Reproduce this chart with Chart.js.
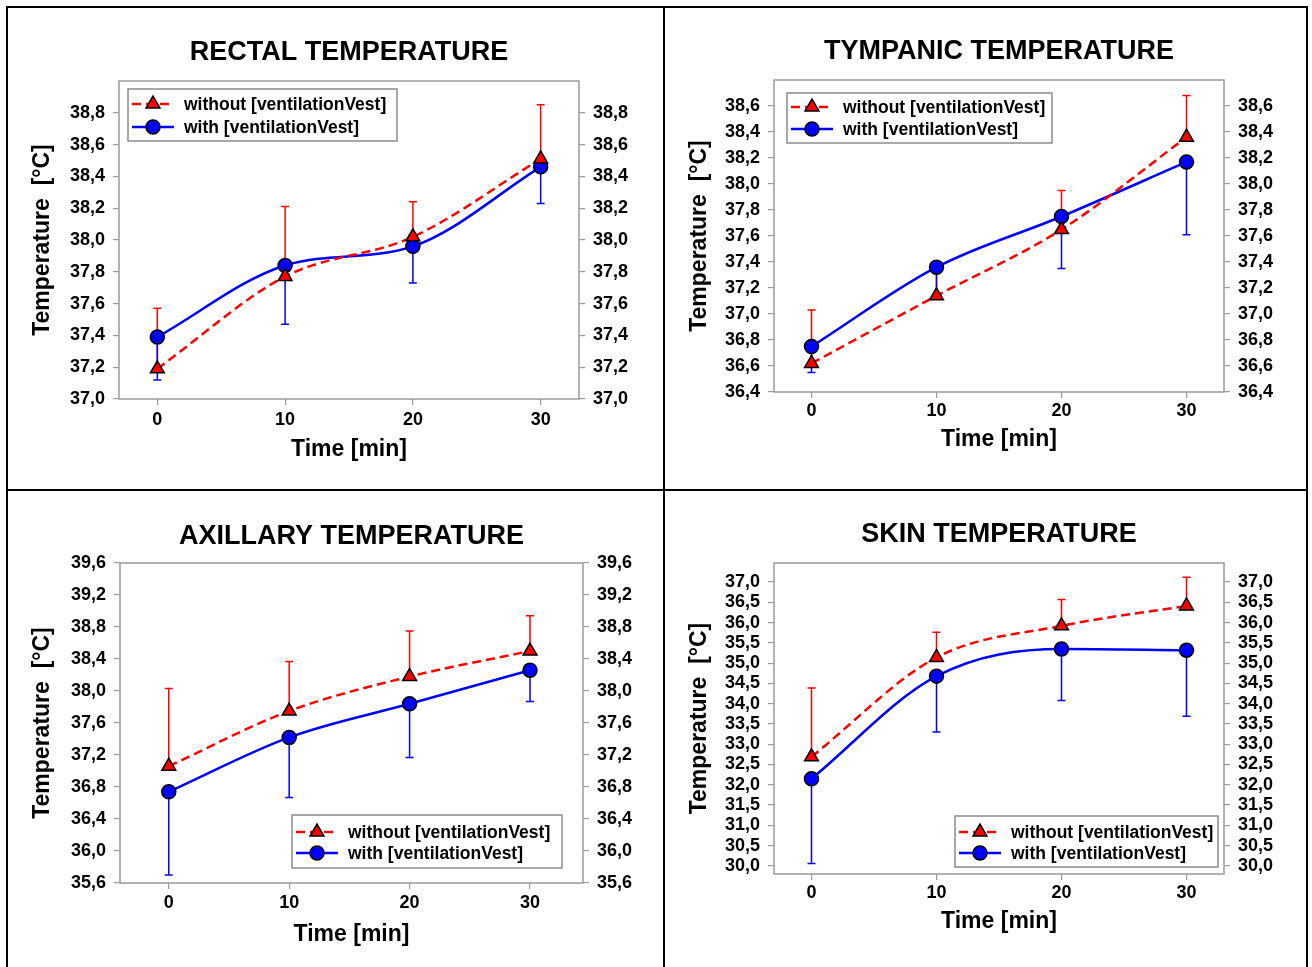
<!DOCTYPE html>
<html>
<head>
<meta charset="utf-8">
<script src="https://cdn.jsdelivr.net/npm/chart.js@4.4.1/dist/chart.umd.min.js"></script>
<style>
  body { margin: 0; background: #fff; }
  #wrap { position: relative; width: 1312px; height: 967px; overflow: hidden; }
  .cell { position: absolute; }
  .rule { position: absolute; background: #000; }
</style>
</head>
<body>
<div id="wrap">
  <div class="cell" style="left:0;top:0"><canvas id="rectal" width="664" height="490"></canvas></div>
  <div class="cell" style="left:664px;top:0"><canvas id="tympanic" width="648" height="490"></canvas></div>
  <div class="cell" style="left:0;top:490px"><canvas id="axillary" width="664" height="477"></canvas></div>
  <div class="cell" style="left:664px;top:490px"><canvas id="skin" width="648" height="477"></canvas></div>

  <div class="rule" style="left:6px;top:6px;width:1302px;height:2px"></div>
  <div class="rule" style="left:6px;top:6px;width:2px;height:961px"></div>
  <div class="rule" style="left:1306px;top:6px;width:2px;height:961px"></div>
  <div class="rule" style="left:663px;top:6px;width:2px;height:961px"></div>
  <div class="rule" style="left:6px;top:489px;width:1302px;height:2px"></div>
</div>
<script>
const times = [0, 10, 20, 30];
const seriesNames = ["without [ventilationVest]", "with [ventilationVest]"];

// rectal
const rectalWithout = [37.19, 37.77, 38.02, 38.51];
const rectalWithoutSd = [0.38, 0.44, 0.22, 0.34];
const rectalWith = [37.39, 37.84, 37.96, 38.46];
const rectalWithSd = [0.27, 0.37, 0.23, 0.23];
const rectalTicks = [37.0, 37.2, 37.4, 37.6, 37.8, 38.0, 38.2, 38.4, 38.6, 38.8];

// tympanic
const tympanicWithout = [36.62, 37.14, 37.65, 38.36];
const tympanicWithoutSd = [0.41, 0.22, 0.30, 0.32];
const tympanicWith = [36.75, 37.36, 37.75, 38.17];
const tympanicWithSd = [0.20, 0.22, 0.40, 0.56];
const tympanicTicks = [36.4, 36.6, 36.8, 37.0, 37.2, 37.4, 37.6, 37.8, 38.0, 38.2, 38.4, 38.6];

// axillary
const axillaryWithout = [37.06, 37.75, 38.18, 38.50];
const axillaryWithoutSd = [0.97, 0.62, 0.57, 0.44];
const axillaryWith = [36.74, 37.42, 37.84, 38.26];
const axillaryWithSd = [1.04, 0.75, 0.67, 0.39];
const axillaryTicks = [35.6, 36.0, 36.4, 36.8, 37.2, 37.6, 38.0, 38.4, 38.8, 39.2, 39.6];

// skin
const skinWithout = [32.69, 35.14, 35.92, 36.41];
const skinWithoutSd = [1.70, 0.62, 0.65, 0.71];
const skinWith = [32.15, 34.68, 35.35, 35.32];
const skinWithSd = [2.09, 1.38, 1.27, 1.63];
const skinTicks = [30.0, 30.5, 31.0, 31.5, 32.0, 32.5, 33.0, 33.5, 34.0, 34.5, 35.0, 35.5, 36.0, 36.5, 37.0];

Chart.defaults.font.family = "'Liberation Sans', Arial, sans-serif";
Chart.defaults.font.weight = "bold";
Chart.defaults.color = "#000";

const RED = "#ff0000";
const BLUE = "#0000ff";
const FRAME = "#9a9a9a";

function marker(ctx, style, x, y, r, fill) {
    ctx.save();
    ctx.fillStyle = fill;
    ctx.strokeStyle = "#000";
    ctx.lineWidth = 1.5;
    ctx.setLineDash([]);
    ctx.beginPath();
    if (style === "triangle") {
        ctx.moveTo(x, y - r);
        ctx.lineTo(x + r * 0.866, y + r * 0.5);
        ctx.lineTo(x - r * 0.866, y + r * 0.5);
        ctx.closePath();
    } else {
        ctx.arc(x, y, r, 0, Math.PI * 2);
    }
    ctx.fill();
    ctx.stroke();
    ctx.restore();
}

// grey frame round the plot area + error bars under the lines
const framePlugin = {
    id: "frame",
    beforeDatasetsDraw(chart) {
        const { ctx, chartArea: a, scales } = chart;
        ctx.save();
        ctx.strokeStyle = FRAME;
        ctx.lineWidth = 1.5;
        ctx.strokeRect(a.left, a.top, a.right - a.left, a.bottom - a.top);

        chart.data.datasets.forEach((ds, i) => {
            const meta = chart.getDatasetMeta(i);
            ctx.strokeStyle = ds.borderColor;
            ctx.lineWidth = 1.5;
            ds.sd.forEach((sd, j) => {
                const x = meta.data[j].x;
                const y0 = scales.y.getPixelForValue(ds.data[j].y);
                const y1 = scales.y.getPixelForValue(ds.data[j].y + ds.errDir * sd);
                ctx.beginPath();
                ctx.moveTo(x, y0);
                ctx.lineTo(x, y1);
                ctx.moveTo(x - 4, y1);
                ctx.lineTo(x + 4, y1);
                ctx.stroke();
            });
        });
        ctx.restore();
    }
};

// boxed legend inside the plot area
const boxLegendPlugin = {
    id: "boxLegend",
    afterDatasetsDraw(chart, args, opts) {
        const { ctx, chartArea: a } = chart;
        const bx = a.left + opts.x, by = a.top + opts.y;
        ctx.save();
        ctx.fillStyle = "#fff";
        ctx.fillRect(bx, by, opts.w, opts.h);
        ctx.strokeStyle = "#8c8c8c";
        ctx.lineWidth = 1.5;
        ctx.strokeRect(bx, by, opts.w, opts.h);
        chart.data.datasets.forEach((ds, i) => {
            const ry = by + opts.rows[i];
            ctx.strokeStyle = ds.borderColor;
            ctx.lineWidth = ds.borderWidth;
            ctx.setLineDash(ds.borderDash || []);
            ctx.beginPath();
            ctx.moveTo(bx + 4, ry);
            ctx.lineTo(bx + 46, ry);
            ctx.stroke();
            marker(ctx, ds.pointStyle, bx + 25, ry, ds.pointRadius, ds.pointBackgroundColor);
            ctx.fillStyle = "#000";
            ctx.font = "bold 17.5px 'Liberation Sans', Arial, sans-serif";
            ctx.textBaseline = "middle";
            ctx.textAlign = "left";
            ctx.fillText(ds.label, bx + 56, ry + 1);
        });
        ctx.restore();
    }
};

function points(values) {
    return values.map((v, i) => ({ x: times[i], y: v }));
}

function comma(v) {
    return v.toFixed(1).replace(".", ",");
}

function makePanel(id, title, without, withoutSd, withVals, withSd, yTicks, yMin, yMax, xMin, xMax, g) {
    const canvas = document.getElementById(id);
    const W = canvas.width, H = canvas.height;
    const yAxis = (pos) => ({
        type: "linear",
        position: pos,
        min: yMin,
        max: yMax,
        afterBuildTicks: s => { s.ticks = yTicks.map(v => ({ value: v })); },
        afterFit: s => { s.width = pos === "left" ? g.l : W - g.r; },
        ticks: { font: { size: 18 }, padding: 8, autoSkip: false, callback: v => comma(v) },
        grid: { drawOnChartArea: false, drawTicks: true, tickLength: 6, color: FRAME, lineWidth: 1.2 },
        border: { display: false },
        title: pos === "left" ? {
            display: true,
            text: "Temperature  [°C]",
            font: { size: 23 },
            padding: { top: g.yTitle - 13.8, bottom: 0 }
        } : { display: false }
    });

    new Chart(canvas, {
        type: "line",
        data: {
            datasets: [{
                label: seriesNames[0],
                data: points(without),
                sd: withoutSd,
                errDir: 1,
                borderColor: RED,
                borderWidth: 2.5,
                borderDash: [9, 5],
                pointStyle: "triangle",
                pointRadius: 8,
                pointBackgroundColor: RED,
                pointBorderColor: "#000",
                pointBorderWidth: 1.5,
                cubicInterpolationMode: "monotone"
            }, {
                label: seriesNames[1],
                data: points(withVals),
                sd: withSd,
                errDir: -1,
                borderColor: BLUE,
                borderWidth: 2.5,
                pointStyle: "circle",
                pointRadius: 7,
                pointBackgroundColor: BLUE,
                pointBorderColor: "#000",
                pointBorderWidth: 1.5,
                cubicInterpolationMode: "monotone"
            }]
        },
        options: {
            responsive: false,
            animation: false,
            layout: { padding: 0 },
            scales: {
                x: {
                    type: "linear",
                    position: "bottom",
                    min: xMin,
                    max: xMax,
                    afterBuildTicks: s => { s.ticks = times.map(v => ({ value: v })); },
                    afterFit: s => { s.height = H - g.b; },
                    ticks: { font: { size: 18 }, autoSkip: false, padding: g.tickY - g.b - 6 - 10.8 },
                    grid: { drawOnChartArea: false, drawTicks: true, tickLength: 6, color: FRAME, lineWidth: 1.2 },
                    border: { display: false },
                    title: {
                        display: true,
                        text: "Time [min]",
                        font: { size: 23 },
                        padding: { top: 0, bottom: H - g.xTitle - 13.8 }
                    }
                },
                y: yAxis("left"),
                y2: yAxis("right")
            },
            plugins: {
                legend: { display: false },
                tooltip: { enabled: false },
                title: {
                    display: true,
                    text: title,
                    fullSize: false,
                    font: { size: 27, weight: "bold" },
                    color: "#000",
                    padding: { top: g.title - 16.2, bottom: g.t - 32.4 - (g.title - 16.2) }
                },
                boxLegend: g.legend
            }
        },
        plugins: [framePlugin, boxLegendPlugin]
    });
}

makePanel("rectal", "RECTAL TEMPERATURE",
    rectalWithout, rectalWithoutSd, rectalWith, rectalWithSd, rectalTicks, 37.0, 39.0, -3, 33,
    { l: 119, r: 579, t: 81, b: 399, title: 53, tickY: 420, xTitle: 450, yTitle: 43,
      legend: { x: 9, y: 8, w: 269, h: 52, rows: [15, 38] } });

makePanel("tympanic", "TYMPANIC TEMPERATURE",
    tympanicWithout, tympanicWithoutSd, tympanicWith, tympanicWithSd, tympanicTicks, 36.4, 38.8, -3, 33,
    { l: 110, r: 560, t: 80, b: 392, title: 52, tickY: 411, xTitle: 440, yTitle: 36,
      legend: { x: 13, y: 13, w: 265, h: 50, rows: [14, 36] } });

makePanel("axillary", "AXILLARY TEMPERATURE",
    axillaryWithout, axillaryWithoutSd, axillaryWith, axillaryWithSd, axillaryTicks, 35.6, 39.6, -4.05, 34.4,
    { l: 120, r: 583, t: 73, b: 393, title: 47, tickY: 413, xTitle: 445, yTitle: 43,
      legend: { x: 172, y: 252, w: 270, h: 53, rows: [17, 38] } });

makePanel("skin", "SKIN TEMPERATURE",
    skinWithout, skinWithoutSd, skinWith, skinWithSd, skinTicks, 29.8, 37.47, -3, 33,
    { l: 110, r: 560, t: 73, b: 384, title: 45, tickY: 403, xTitle: 432, yTitle: 36,
      legend: { x: 181, y: 253, w: 263, h: 51, rows: [16, 37] } });
</script>
</body>
</html>
